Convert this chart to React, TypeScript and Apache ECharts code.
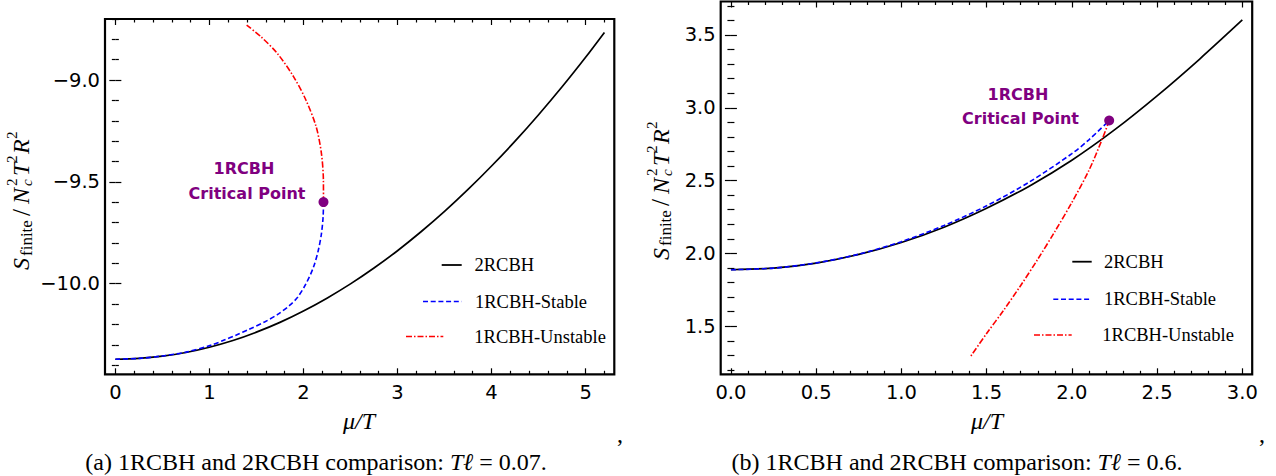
import React, { useEffect, useRef } from "react";
import * as echarts from "echarts";

// ---------- Panel (a): T*l = 0.07 ----------
const A_2RCBH_MU = [0, 0.25, 0.5, 0.75, 1.0, 1.25, 1.5, 1.75, 2.0, 2.25, 2.5, 2.75, 3.0, 3.25, 3.5, 3.75, 4.0, 4.25, 4.5, 4.75, 5.0, 5.2];
const A_2RCBH_S = [-10.371, -10.367, -10.356, -10.338, -10.312, -10.279, -10.238, -10.19, -10.134, -10.071, -10.001, -9.923, -9.838, -9.745, -9.645, -9.537, -9.422, -9.3, -9.17, -9.033, -8.888, -8.766];

const A_STABLE_MU = [0, 0.25, 0.5, 0.75, 1.026, 1.157, 1.287, 1.417, 1.591, 1.722, 1.852, 1.939, 2.026, 2.104, 2.157, 2.191, 2.209, 2.213];
const A_STABLE_S = [-10.371, -10.367, -10.355, -10.336, -10.301, -10.277, -10.252, -10.225, -10.187, -10.152, -10.107, -10.066, -10.001, -9.922, -9.838, -9.755, -9.672, -9.599];

const A_UNSTABLE_MU = [2.213, 2.212, 2.191, 2.135, 2.026, 1.896, 1.722, 1.548, 1.396];
const A_UNSTABLE_S = [-9.599, -9.491, -9.36, -9.229, -9.098, -8.984, -8.869, -8.787, -8.73];

const A_CRIT = [2.213, -9.599];

const A_X_MAJOR = [0, 1, 2, 3, 4, 5];
const A_Y_MAJOR = [-10.0, -9.5, -9.0];
const A_X_RANGE = [-0.11, 5.305];
const A_Y_RANGE = [-10.445, -8.7];

// ---------- Panel (b): T*l = 0.6 ----------
const B_2RCBH_MU = [0, 0.25, 0.5, 0.75, 1.0, 1.25, 1.5, 1.75, 2.0, 2.25, 2.5, 2.75, 3.0];
const B_2RCBH_S = [1.888, 1.899, 1.934, 1.993, 2.075, 2.18, 2.31, 2.462, 2.64, 2.848, 3.082, 3.335, 3.603];

const B_STABLE_MU = [0, 0.25, 0.5, 0.75, 1.0, 1.25, 1.5, 1.75, 2.0, 2.1, 2.219];
const B_STABLE_S = [1.888, 1.899, 1.935, 1.995, 2.081, 2.192, 2.327, 2.49, 2.685, 2.78, 2.913];

const B_UNSTABLE_MU = [2.219, 2.18, 2.1, 2.0, 1.9, 1.8, 1.7, 1.6, 1.5, 1.405];
const B_UNSTABLE_S = [2.913, 2.79, 2.57, 2.35, 2.15, 1.96, 1.78, 1.61, 1.45, 1.291];

const B_CRIT = [2.219, 2.913];

const B_X_MAJOR = [0, 0.5, 1.0, 1.5, 2.0, 2.5, 3.0];
const B_Y_MAJOR = [1.5, 2.0, 2.5, 3.0, 3.5];
const B_X_RANGE = [-0.06, 3.058];
const B_Y_RANGE = [1.17, 3.73];

const LEGEND_NAMES = ["2RCBH", "1RCBH-Stable", "1RCBH-Unstable"];
const CAPTION_A = ["(a) 1RCBH and 2RCBH comparison: ", "T\u2113", " = 0.07."];
const CAPTION_B = ["(b) 1RCBH and 2RCBH comparison: ", "T\u2113", " = 0.6."];

const BLACK = "#000000";
const BLUE = "#0000ff";
const RED = "#ff0000";
const PURPLE = "#800080";
const BLUE_DASH = [5, 2.7];
const RED_DASH = [6, 2, 1.5, 2];

function minorTicks(lo: number, hi: number, step: number, major: number[]) {
  const out: number[] = [];
  const n0 = Math.ceil(lo / step - 1e-9);
  const n1 = Math.floor(hi / step + 1e-9);
  for (let n = n0; n <= n1; n++) {
    const v = Math.round(n * step * 1000) / 1000;
    if (!major.some((m) => Math.abs(m - v) < 1e-6)) out.push(v);
  }
  return out;
}

const zip = (xs: number[], ys: number[]) => xs.map((x, i) => [x, ys[i]]);
const fmtMinus = (v: number) => (v < 0 ? "\u2212" : "") + Math.abs(v).toFixed(1);

const tickLine = { color: BLACK, width: 1.2 };
const labelFont = { fontSize: 19.5, fontFamily: "DejaVu Sans", color: BLACK };

function makeAxes(
  dim: "x" | "y",
  grid: number,
  range: number[],
  major: number[],
  minor: number[],
  fmt: (v: number) => string
) {
  const base = {
    type: "value",
    gridIndex: grid,
    min: range[0],
    max: range[1],
    splitLine: { show: false },
    axisLine: { show: false },
    axisPointer: { show: false },
  };
  const p1 = dim === "x" ? "bottom" : "left";
  const p2 = dim === "x" ? "top" : "right";
  const maj = (pos: string, labels: boolean) => ({
    ...base,
    position: pos,
    axisTick: { show: true, inside: true, length: 6, customValues: major, lineStyle: tickLine },
    axisLabel: labels
      ? { show: true, customValues: major, formatter: fmt, margin: dim === "x" ? 8 : 5, ...labelFont }
      : { show: false },
  });
  const min = (pos: string) => ({
    ...base,
    position: pos,
    axisTick: { show: true, inside: true, length: 3.5, customValues: minor, lineStyle: tickLine },
    axisLabel: { show: false },
  });
  return [maj(p1, true), min(p1), maj(p2, false), min(p2)];
}

function lineSeries(xi: number, mu: number[], s: number[], color: string, dash: any, width: number) {
  return {
    type: "line",
    xAxisIndex: xi,
    yAxisIndex: xi,
    data: zip(mu, s),
    showSymbol: false,
    symbol: "none",
    smooth: 0.3,
    silent: true,
    lineStyle: { color, width, type: dash },
  };
}

function txt(x: number, y: number, text: string, o: any) {
  return {
    type: "text",
    x,
    y,
    silent: true,
    style: {
      text,
      fill: o.fill || BLACK,
      fontSize: o.size,
      fontFamily: o.family || "Liberation Serif",
      fontStyle: o.style || "normal",
      fontWeight: o.weight || "normal",
      align: o.align || "left",
      verticalAlign: "middle",
      textAlign: o.align || "left",
      textVerticalAlign: "middle",
    },
  };
}

function yTitle(cx: number, by: number) {
  const it = { size: 24, style: "italic" };
  const sm = { size: 15 };
  return {
    type: "group",
    x: cx,
    y: by,
    rotation: Math.PI / 2,
    children: [
      txt(0, 0, "S", it),
      txt(14, 5, "finite", { size: 17 }),
      txt(54, 0, "/", { size: 25 }),
      txt(66, 0, "N", it),
      txt(84, -9, "2", sm),
      txt(84, 6, "c", { size: 15, style: "italic" }),
      txt(94, 0, "T", it),
      txt(107, -9, "2", sm),
      txt(116, 0, "R", it),
      txt(131, -9, "2", sm),
    ],
  };
}

function legend(rows: { x1: number; x2: number; y: number; tx: number }[]) {
  const styles = [
    { stroke: BLACK, lineWidth: 1.8 },
    { stroke: BLUE, lineWidth: 1.6, lineDash: BLUE_DASH },
    { stroke: RED, lineWidth: 1.6, lineDash: RED_DASH },
  ];
  const els: any[] = [];
  rows.forEach((r, i) => {
    els.push({ type: "line", silent: true, shape: { x1: r.x1, y1: r.y, x2: r.x2, y2: r.y }, style: styles[i] });
    els.push(txt(r.tx, r.y, LEGEND_NAMES[i], { size: 18.5 }));
  });
  return els;
}

function caption(cx: number, y: number, parts: string[]) {
  return {
    type: "text",
    x: cx,
    y,
    silent: true,
    style: {
      text: `{r|${parts[0]}}{i|${parts[1]}}{r|${parts[2]}}`,
      align: "center",
      verticalAlign: "middle",
      textAlign: "center",
      textVerticalAlign: "middle",
      rich: {
        r: { fontSize: 24, fontFamily: "Liberation Serif", fill: BLACK, color: BLACK },
        i: { fontSize: 24, fontFamily: "Liberation Serif", fontStyle: "italic", fill: BLACK, color: BLACK },
      },
    },
  };
}

export default function App() {
  const ref = useRef<HTMLDivElement>(null);
  useEffect(() => {
    if (!ref.current) return;
    const chart = echarts.init(ref.current, null, { renderer: "svg" });
    const gridBase = { show: true, borderColor: BLACK, borderWidth: 2.2, backgroundColor: "transparent", containLabel: false, outerBoundsMode: "none" };
    const aXMinor = minorTicks(A_X_RANGE[0], A_X_RANGE[1], 0.2, A_X_MAJOR);
    const aYMinor = minorTicks(A_Y_RANGE[0], A_Y_RANGE[1], 0.1, A_Y_MAJOR);
    const bXMinor = minorTicks(B_X_RANGE[0], B_X_RANGE[1], 0.1, B_X_MAJOR);
    const bYMinor = minorTicks(B_Y_RANGE[0], B_Y_RANGE[1], 0.1, B_Y_MAJOR);

    const option: any = {
      animation: false,
      backgroundColor: "#ffffff",
      grid: [
        { ...gridBase, left: 105, top: 19, width: 509.3, height: 355.3 },
        { ...gridBase, left: 720.7, top: 1.5, width: 531.5, height: 372.8 },
      ],
      xAxis: [
        ...makeAxes("x", 0, A_X_RANGE, A_X_MAJOR, aXMinor, (v) => String(v)),
        ...makeAxes("x", 1, B_X_RANGE, B_X_MAJOR, bXMinor, (v) => v.toFixed(1)),
      ],
      yAxis: [
        ...makeAxes("y", 0, A_Y_RANGE, A_Y_MAJOR, aYMinor, fmtMinus),
        ...makeAxes("y", 1, B_Y_RANGE, B_Y_MAJOR, bYMinor, fmtMinus),
      ],
      series: [
        lineSeries(0, A_2RCBH_MU, A_2RCBH_S, BLACK, "solid", 1.7),
        lineSeries(0, A_STABLE_MU, A_STABLE_S, BLUE, BLUE_DASH, 1.6),
        lineSeries(0, A_UNSTABLE_MU, A_UNSTABLE_S, RED, RED_DASH, 1.6),
        {
          type: "scatter", xAxisIndex: 0, yAxisIndex: 0, data: [A_CRIT], symbolSize: 10,
          itemStyle: { color: PURPLE, opacity: 1 }, silent: true, z: 5,
        },
        lineSeries(4, B_2RCBH_MU, B_2RCBH_S, BLACK, "solid", 1.7),
        lineSeries(4, B_STABLE_MU, B_STABLE_S, BLUE, BLUE_DASH, 1.6),
        lineSeries(4, B_UNSTABLE_MU, B_UNSTABLE_S, RED, RED_DASH, 1.6),
        {
          type: "scatter", xAxisIndex: 4, yAxisIndex: 4, data: [B_CRIT], symbolSize: 10,
          itemStyle: { color: PURPLE, opacity: 1 }, silent: true, z: 5,
        },
      ],
      graphic: [
        // annotations
        txt(244, 168, "1RCBH", { size: 16, family: "DejaVu Sans", weight: "bold", fill: PURPLE, align: "center" }),
        txt(247, 193, "Critical Point", { size: 16, family: "DejaVu Sans", weight: "bold", fill: PURPLE, align: "center" }),
        txt(1018, 94, "1RCBH", { size: 16, family: "DejaVu Sans", weight: "bold", fill: PURPLE, align: "center" }),
        txt(1020.5, 118, "Critical Point", { size: 16, family: "DejaVu Sans", weight: "bold", fill: PURPLE, align: "center" }),
        // legends
        ...legend([
          { x1: 441.7, x2: 461.7, y: 265, tx: 474.5 },
          { x1: 423, x2: 461.7, y: 301.5, tx: 475 },
          { x1: 406, x2: 443.3, y: 336.5, tx: 474.3 },
        ]),
        ...legend([
          { x1: 1072.3, x2: 1091.7, y: 261.7, tx: 1104 },
          { x1: 1053.3, x2: 1091.7, y: 299.3, tx: 1104 },
          { x1: 1034, x2: 1071.7, y: 335, tx: 1102.3 },
        ]),
        // axis titles
        txt(359, 421, "\u03bc/T", { size: 24, style: "italic", align: "center" }),
        txt(987, 421, "\u03bc/T", { size: 24, style: "italic", align: "center" }),
        yTitle(21, 270),
        yTitle(660.5, 260),
        // captions
        caption(316, 462, CAPTION_A),
        caption(957, 462, CAPTION_B),
        txt(620, 434, ",", { size: 24, align: "center" }),
        txt(1262, 434, ",", { size: 24, align: "center" }),
      ],
    };
    chart.setOption(option);
    return () => chart.dispose();
  }, []);
  return (
    <div
      ref={ref}
      style={{ position: "fixed", left: 0, top: 0, width: 1276, height: 476, background: "#ffffff" }}
    />
  );
}
